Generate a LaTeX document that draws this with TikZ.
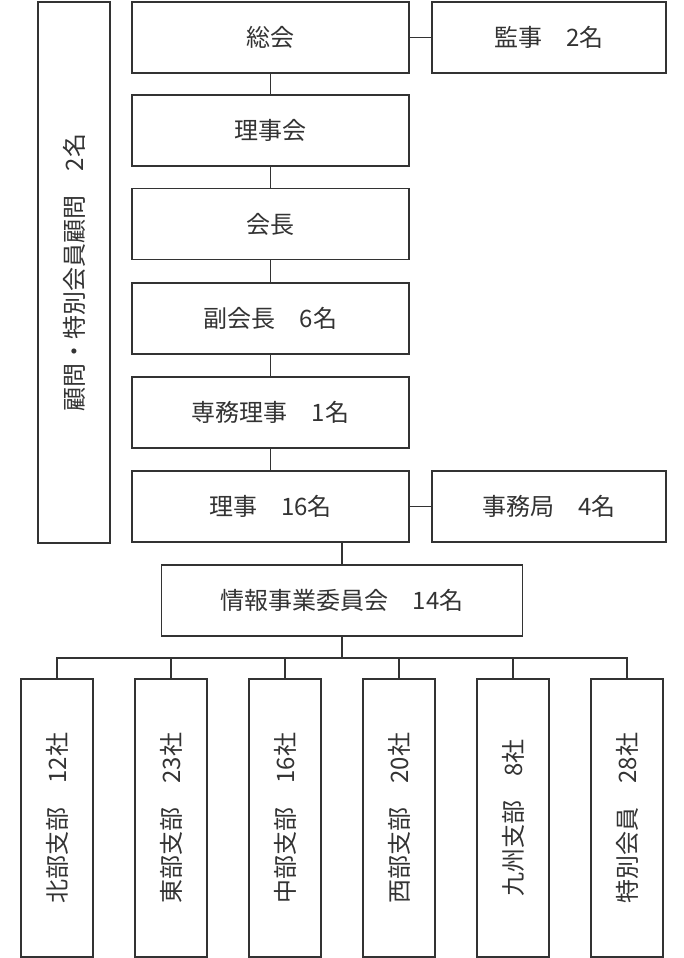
\documentclass[tikz,border=0pt]{standalone}
\usepackage{fontspec}
\setmainfont{Noto Sans CJK JP}
\begin{document}
\begin{tikzpicture}[x=1pt,y=-1pt,
  tx/.style={font=\fontsize{24}{28}\selectfont,text=black!80},
  bx/.style={draw=black!80,line width=1.5pt,fill=white,inner sep=0pt,tx},
  ln/.style={draw=black!80,line width=1.5pt}]
\useasboundingbox (0,0) rectangle (684,958);
\node[bx,minimum width=72,minimum height=541] (adv) at (74,272.5) {};
\node[tx,rotate=90] at (adv.center) {顧問・特別会員顧問　2名};
\node[bx,minimum width=277,minimum height=71] (g) at (270.5,37.5) {総会};
\node[bx,minimum width=234,minimum height=71] (k) at (549,37.5) {監事　2名};
\node[bx,minimum width=277,minimum height=71] (r) at (270.5,130.5) {理事会};
\node[bx,minimum width=277,minimum height=71] (c) at (270.5,224) {会長};
\node[bx,minimum width=277,minimum height=71] (v) at (270.5,318.5) {副会長　6名};
\node[bx,minimum width=277,minimum height=71] (s) at (270.5,412.5) {専務理事　1名};
\node[bx,minimum width=277,minimum height=71] (d) at (270.5,506.5) {理事　16名};
\node[bx,minimum width=234,minimum height=71] (j) at (549,506.5) {事務局　4名};
\node[bx,minimum width=361,minimum height=71] (i) at (342,600.5) {情報事業委員会　14名};
\draw[ln] (g) -- (k); \draw[ln] (d) -- (j);
\draw[ln] (g) -- (r); \draw[ln] (r) -- (c); \draw[ln] (c) -- (v); \draw[ln] (v) -- (s); \draw[ln] (s) -- (d);
\draw[ln] (d.south -| i.north) -- (i.north);
\coordinate (bus) at (342,658);
\draw[ln] (i.south) -- (bus);
\foreach \n/\x/\t in {b1/57/北部支部　12社,b2/171/東部支部　23社,b3/285/中部支部　16社,b4/399/西部支部　20社,b5/513/九州支部　8社,b6/627/特別会員　28社}{
  \node[bx,minimum width=72,minimum height=278] (\n) at (\x,818) {};
  \node[tx,rotate=90] at (\n.center) {\t};
  \draw[ln] (\n.north) |- (bus);
}
\end{tikzpicture}
\end{document}
